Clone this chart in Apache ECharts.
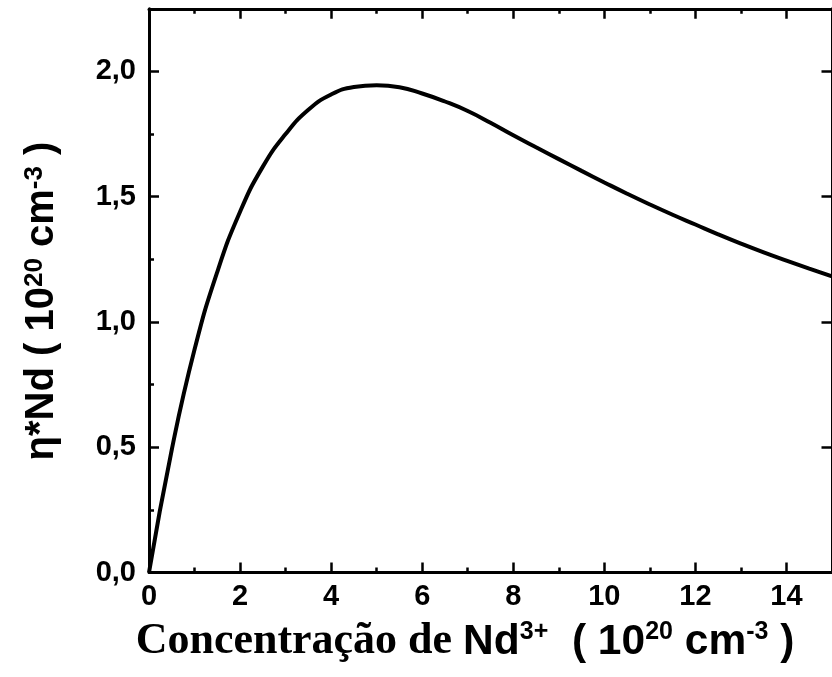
<!DOCTYPE html>
<html>
<head>
<meta charset="utf-8">
<script src="https://cdn.jsdelivr.net/npm/echarts@6/dist/echarts.min.js"></script>
<style>
html,body{margin:0;padding:0;background:#fff;}
#chart{width:832px;height:677px;}
</style>
</head>
<body>
<div id="chart"></div>
<script>
// Data
const concentration = [0, 0.5, 1.0, 1.5, 2.0, 2.5, 3.0, 3.5, 4.0, 4.5, 5.0, 5.5, 6.0, 6.5, 7.0, 7.5, 8.0, 8.5, 9.0, 9.5, 10.0, 10.5, 11.0, 11.5, 12.0, 12.5, 13.0, 13.5, 14.0, 14.5, 15.0];
const etaNd = [0, 0.49, 0.89, 1.20, 1.44, 1.62, 1.75, 1.847, 1.908, 1.938, 1.945, 1.937, 1.912, 1.88, 1.842, 1.795, 1.745, 1.697, 1.65, 1.603, 1.557, 1.512, 1.469, 1.428, 1.389, 1.35, 1.313, 1.278, 1.245, 1.213, 1.182];
const xLabelValues = [0, 2, 4, 6, 8, 10, 12, 14];
const yLabelValues = [0, 0.5, 1.0, 1.5, 2.0];

const X_MIN = 0, X_MAX = 15, Y_MIN = 0, Y_MAX = 2.25;
const SANS = '"Liberation Sans", Arial, sans-serif';
const SERIF = '"Liberation Serif", "Times New Roman", serif';

const chart = echarts.init(document.getElementById('chart'), null, {renderer: 'canvas'});

function xAxisDef(position, interval, len, withLine, withLabels) {
  return {
    type: 'value', position: position, min: X_MIN, max: X_MAX, interval: interval,
    axisLine: {show: withLine, onZero: false, lineStyle: {color: '#000', width: 3}},
    axisTick: {show: len > 0, inside: true, length: len, lineStyle: {color: '#000', width: 2.5}},
    axisLabel: {
      show: withLabels, margin: 10, color: '#000', fontSize: 29, fontWeight: 'bold', fontFamily: SANS,
      showMaxLabel: false,
      formatter: function (v) { return xLabelValues.indexOf(v) >= 0 ? String(v) : ''; }
    },
    splitLine: {show: false}
  };
}
function yAxisDef(position, interval, len, withLine, withLabels) {
  return {
    type: 'value', position: position, min: Y_MIN, max: Y_MAX, interval: interval,
    axisLine: {show: withLine, onZero: false, lineStyle: {color: '#000', width: 3}},
    axisTick: {show: len > 0, inside: true, length: len, lineStyle: {color: '#000', width: 2.5}},
    axisLabel: {
      show: withLabels, margin: 13, color: '#000', fontSize: 29, fontWeight: 'bold', fontFamily: SANS,
      showMaxLabel: false,
      formatter: function (v) {
        for (let i = 0; i < yLabelValues.length; i++) {
          if (Math.abs(yLabelValues[i] - v) < 1e-9) return v.toFixed(1).replace('.', ',');
        }
        return '';
      }
    },
    splitLine: {show: false}
  };
}

const option = {
  backgroundColor: '#fff',
  animation: false,
  grid: {left: 149, right: -10.2, top: 8.8, bottom: 104.5, containLabel: false},
  xAxis: [
    xAxisDef('bottom', 1, 5, true, true),
    xAxisDef('bottom', 2, 10, false, false),
    xAxisDef('top', 1, 5, true, false),
    xAxisDef('top', 2, 10, false, false)
  ],
  yAxis: [
    yAxisDef('left', 0.25, 5, true, true),
    yAxisDef('left', 0.5, 10, false, false),
    yAxisDef('right', 0.25, 0, true, false),
    yAxisDef('right', 0.5, 10.5, false, false)
  ],
  series: [{
    type: 'line',
    xAxisIndex: 0, yAxisIndex: 0,
    data: concentration.map((x, i) => [x, etaNd[i]]),
    smooth: 0.5,
    showSymbol: false,
    symbol: 'none',
    lineStyle: {color: '#000', width: 4},
    itemStyle: {color: '#000'}
  }],
  graphic: [
    {
      type: 'text', x: 465, y: 642,
      style: {
        text: '{t|Concentração de }{a|Nd}{s|3+}{a|  ( 10}{s|20}{a| cm}{s|-3}{a| )}',
        align: 'center', verticalAlign: 'middle',
        rich: {
          t: {fontFamily: SERIF, fontWeight: 'bold', fontSize: 44, fill: '#000', color: '#000'},
          a: {fontFamily: SANS, fontWeight: 'bold', fontSize: 42.5, fill: '#000', color: '#000'},
          s: {fontFamily: SANS, fontWeight: 'bold', fontSize: 25, fill: '#000', color: '#000', verticalAlign: 'top', lineHeight: 22}
        }
      }
    },
    {
      type: 'text', x: 42, y: 301, rotation: Math.PI / 2,
      style: {
        text: '{a|η*Nd ( 10}{s|20}{a| cm}{s|-3}{a| )}',
        align: 'center', verticalAlign: 'middle',
        rich: {
          a: {fontFamily: SANS, fontWeight: 'bold', fontSize: 40, fill: '#000', color: '#000'},
          s: {fontFamily: SANS, fontWeight: 'bold', fontSize: 26, fill: '#000', color: '#000', verticalAlign: 'top', lineHeight: 14}
        }
      }
    }
  ]
};
chart.setOption(option);
</script>
</body>
</html>
